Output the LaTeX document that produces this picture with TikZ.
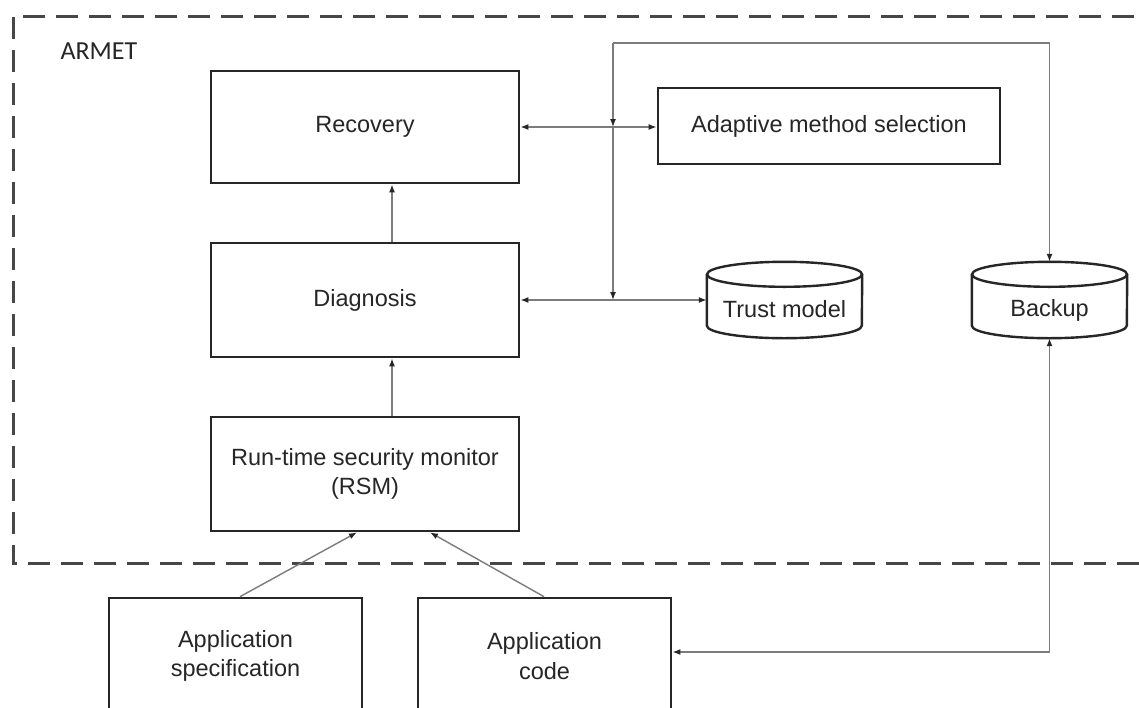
\documentclass[tikz,border=0pt]{standalone}
\usepackage{fontspec}
\setmainfont{Liberation Sans}
\newfontfamily\armetfont{Carlito}
\usetikzlibrary{arrows.meta,calc}
\definecolor{ink}{HTML}{262626}
\definecolor{wire}{HTML}{7C7C7C}
\definecolor{framecol}{HTML}{474747}

\begin{document}
\begin{tikzpicture}[x=1pt,y=-1pt,
  txt/.style={text=ink, font=\fontsize{23.5}{29.5}\selectfont},
  block/.style={draw=ink, line width=2.7pt, txt, align=center, inner sep=0pt},
  store/.style={draw=none, inner sep=0pt, minimum width=155pt, minimum height=76pt},
  cyl/.style={draw=ink, line width=2.4pt},
  tip/.tip={Latex[length=8pt,width=6pt,color=ink]},
  link/.style={draw=wire, line width=1.4pt, -tip},
  bilink/.style={draw=wire, line width=1.4pt, tip-tip},
  boundary/.style={draw=framecol, line width=3pt, dash pattern=on 22pt off 11pt}]

\useasboundingbox (0,0) rectangle (1139,707);
\clip (0,0) rectangle (1139,707);
\fill[white] (0,0) rectangle (1139,707);

% ARMET boundary (open to the right)
\draw[boundary] (1200,16) -- (13,16) -- (13,563) -- (1200,563);
\node[text=ink, font=\armetfont\fontsize{26}{30}\selectfont, anchor=west] (armet) at (57,51) {ARMET};

% processing blocks
\node[block, minimum width=308pt, minimum height=112pt] (rec)   at (365,127) {Recovery};
\node[block, minimum width=308pt, minimum height=114pt] (diag)  at (365,300) {Diagnosis};
\node[block, minimum width=308pt, minimum height=114pt] (rsm)   at (365,474) {Run-time security monitor\\(RSM)};
\node[block, minimum width=342pt, minimum height=76pt]  (adapt) at (829,126) {Adaptive method selection};
\node[block, minimum width=253pt, minimum height=116pt] (spec)  at (235.5,656) {Application\\specification};
\node[block, minimum width=253pt, minimum height=116pt] (code)  at (544.5,656) {Application\\code};

% data stores
\node[store, label={[txt, yshift=-9pt]center:Trust model}] (trust) at (784.5,300) {};
\node[store, label={[txt, yshift=-10pt]center:Backup}] (backup) at (1049.5,300) {};

\foreach \s in {trust,backup}{
  \draw[cyl] ($(\s.north)+(0,12.5)$) ellipse [x radius=77.5pt, y radius=12.5pt];
  \draw[cyl] ($(\s.north west)+(0,12.5)$) -- ($(\s.south west)+(0,-12.5)$)
     arc[start angle=180, end angle=360, x radius=77.5pt, y radius=12.5pt]
     -- ($(\s.north east)+(0,12.5)$);
}

% vertical flow through the chain
\draw[link] ($(rsm.north)+(27,0)$) -- ($(diag.south)+(27,0)$);
\draw[link] ($(diag.north)+(27,0)$) -- ($(rec.south)+(27,0)$);

% inputs to the monitor
\draw[link] ($(spec.north)+(4.5,0)$) -- ($(rsm.south)+(-8,0)$);
\draw[link] ($(code.north)+(-0.5,0)$) -- ($(rsm.south)+(65,0)$);

% exchanges with the side components
\draw[bilink] (rec.east) -- (rec.east -| adapt.west);
\draw[bilink] (diag.east) -- (diag.east -| trust.west);

% shared bus from the top
\coordinate (busleft)  at (613,43);
\coordinate (busright) at (backup.north |- busleft);
\coordinate (j1) at (busleft |- rec.east);
\coordinate (j2) at (busleft |- diag.east);
\draw[link] (busleft) -- (busright) -- (backup.north);
\draw[link] (busleft) -- (j1);
\draw[link] (j1) -- (j2);

% backup restores the application code
\coordinate (codeport) at ($(code.east)+(0,-4)$);
\draw[bilink] (backup.south) |- (codeport);
\end{tikzpicture}
\end{document}
